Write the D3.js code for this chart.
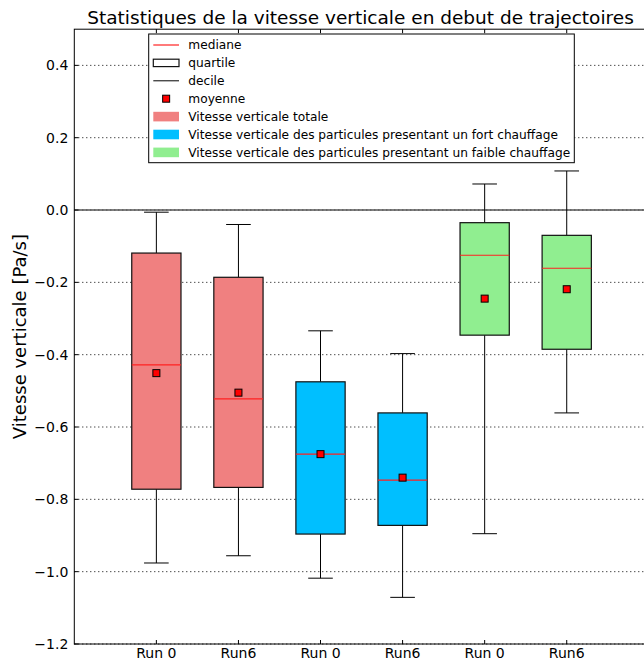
<!DOCTYPE html>
<html>
<head>
<meta charset="utf-8">
<script src="https://cdn.jsdelivr.net/npm/d3@7"></script>
<style>
  html, body { margin: 0; padding: 0; background: #fff; }
  svg { display: block; font-family: "DejaVu Sans", sans-serif; }
</style>
</head>
<body>
<svg id="chart" width="644" height="660"></svg>
<script>
// Box statistics of vertical velocity at trajectory start, one box per run
const categories = ["Run 0", "Run6", "Run 0", "Run6", "Run 0", "Run6"];
const seriesOfBox = [0, 0, 1, 1, 2, 2];
const seriesNames = [
  "Vitesse verticale totale",
  "Vitesse verticale des particules presentant un fort chauffage",
  "Vitesse verticale des particules presentant un faible chauffage"
];
const seriesColors = ["#F08080", "#00BFFF", "#90EE90"];
const decileLow  = [-0.976, -0.956, -1.018, -1.071, -0.895, -0.561];
const quartileLow  = [-0.772, -0.767, -0.896, -0.872, -0.346, -0.385];
const medians    = [-0.428, -0.522, -0.675, -0.747, -0.125, -0.161];
const quartileHigh = [-0.119, -0.186, -0.475, -0.561, -0.035, -0.070];
const decileHigh = [-0.006, -0.040, -0.334, -0.397, 0.072, 0.108];
const means      = [-0.451, -0.505, -0.675, -0.740, -0.245, -0.219];
const yTicks = [-1.2, -1.0, -0.8, -0.6, -0.4, -0.2, 0.0, 0.2, 0.4];
const legendLabels = ["mediane", "quartile", "decile", "moyenne"];

const svg = d3.select("#chart");
const plotL = 74.3, plotR = 648.8, plotT = 29.2, plotB = 644;

const x = d3.scaleLinear().domain([0, 7]).range([plotL, plotR]);
const y = d3.scaleLinear().domain([-1.2, 0.5]).range([plotB, plotT]);
const boxW = 0.6, capW = 0.3;
const pos = categories.map((_, i) => i + 1);

// Horizontal dotted grid
svg.append("g").selectAll("line").data(yTicks).join("line")
  .attr("x1", plotL).attr("x2", plotR)
  .attr("y1", d => y(d)).attr("y2", d => y(d))
  .attr("stroke", "#000").attr("stroke-width", 1)
  .attr("stroke-dasharray", "1,3");

// Zero reference line
svg.append("line")
  .attr("x1", plotL).attr("x2", plotR)
  .attr("y1", y(0)).attr("y2", y(0))
  .attr("stroke", "#555").attr("stroke-width", 1.3);

// Boxes
const boxes = svg.append("g").selectAll("g").data(pos).join("g");
boxes.append("line")
  .attr("x1", d => x(d)).attr("x2", d => x(d))
  .attr("y1", (d, i) => y(decileHigh[i])).attr("y2", (d, i) => y(quartileHigh[i]))
  .attr("stroke", "#000").attr("stroke-width", 1);
boxes.append("line")
  .attr("x1", d => x(d)).attr("x2", d => x(d))
  .attr("y1", (d, i) => y(quartileLow[i])).attr("y2", (d, i) => y(decileLow[i]))
  .attr("stroke", "#000").attr("stroke-width", 1);
boxes.append("line")
  .attr("x1", d => x(d - capW / 2)).attr("x2", d => x(d + capW / 2))
  .attr("y1", (d, i) => y(decileHigh[i])).attr("y2", (d, i) => y(decileHigh[i]))
  .attr("stroke", "#000").attr("stroke-width", 1);
boxes.append("line")
  .attr("x1", d => x(d - capW / 2)).attr("x2", d => x(d + capW / 2))
  .attr("y1", (d, i) => y(decileLow[i])).attr("y2", (d, i) => y(decileLow[i]))
  .attr("stroke", "#000").attr("stroke-width", 1);
boxes.append("rect")
  .attr("x", d => x(d - boxW / 2))
  .attr("width", x(boxW) - x(0))
  .attr("y", (d, i) => y(quartileHigh[i]))
  .attr("height", (d, i) => y(quartileLow[i]) - y(quartileHigh[i]))
  .attr("fill", (d, i) => seriesColors[seriesOfBox[i]])
  .attr("stroke", "#111").attr("stroke-width", 1.2);
boxes.append("line")
  .attr("x1", d => x(d - boxW / 2)).attr("x2", d => x(d + boxW / 2))
  .attr("y1", (d, i) => y(medians[i])).attr("y2", (d, i) => y(medians[i]))
  .attr("stroke", "#ff2020").attr("stroke-width", 1.2);
boxes.append("rect")
  .attr("x", d => x(d) - 3.5).attr("y", (d, i) => y(means[i]) - 3.5)
  .attr("width", 7).attr("height", 7)
  .attr("fill", "#ff0000").attr("stroke", "#000").attr("stroke-width", 1);

// Frame
svg.append("rect")
  .attr("x", plotL).attr("y", plotT)
  .attr("width", plotR - plotL).attr("height", plotB - plotT)
  .attr("fill", "none").attr("stroke", "#000").attr("stroke-width", 1);

// Inward ticks on all sides
const tk = svg.append("g").attr("stroke", "#000").attr("stroke-width", 1);
pos.forEach(p => {
  tk.append("line").attr("x1", x(p)).attr("x2", x(p)).attr("y1", plotB).attr("y2", plotB - 4);
  tk.append("line").attr("x1", x(p)).attr("x2", x(p)).attr("y1", plotT).attr("y2", plotT + 4);
});
yTicks.forEach(v => {
  tk.append("line").attr("x1", plotL).attr("x2", plotL + 4).attr("y1", y(v)).attr("y2", y(v));
  tk.append("line").attr("x1", plotR).attr("x2", plotR - 4).attr("y1", y(v)).attr("y2", y(v));
});

// Tick labels
const fmt = v => (v < 0 ? "\u2212" : "") + Math.abs(v).toFixed(1);
svg.append("g").selectAll("text").data(yTicks).join("text")
  .attr("x", plotL - 6).attr("y", d => y(d)).attr("dy", "0.35em")
  .attr("text-anchor", "end").attr("font-size", 14).attr("fill", "#000")
  .text(fmt);
svg.append("g").selectAll("text").data(pos).join("text")
  .attr("x", d => x(d)).attr("y", plotB + 13.5)
  .attr("text-anchor", "middle").attr("font-size", 14).attr("fill", "#000")
  .text((d, i) => categories[i]);

// Title and axis label
svg.append("text")
  .attr("x", (plotL + plotR) / 2 - 1).attr("y", 24)
  .attr("text-anchor", "middle").attr("font-size", 18.5).attr("fill", "#000")
  .text("Statistiques de la vitesse verticale en debut de trajectoires");
svg.append("text")
  .attr("transform", `translate(26,${(plotT + plotB) / 2}) rotate(-90)`)
  .attr("text-anchor", "middle").attr("font-size", 18).attr("fill", "#000")
  .text("Vitesse verticale [Pa/s]");

// Legend
const lg = svg.append("g");
lg.append("rect")
  .attr("x", 148.7).attr("y", 34).attr("width", 425.6).attr("height", 128.7)
  .attr("fill", "#fff").attr("stroke", "#000").attr("stroke-width", 1);
const rowY = i => 45 + i * 17.9;
const hx0 = 153.3, hx1 = 179, tx = 188.3;
// mediane
lg.append("line").attr("x1", hx0).attr("x2", hx1).attr("y1", rowY(0)).attr("y2", rowY(0))
  .attr("stroke", "#ff2020").attr("stroke-width", 1.2);
// quartile
lg.append("rect").attr("x", hx0).attr("y", rowY(1) - 3.7).attr("width", hx1 - hx0).attr("height", 7.4)
  .attr("fill", "#fff").attr("stroke", "#111").attr("stroke-width", 1.2);
// decile
lg.append("line").attr("x1", hx0).attr("x2", hx1).attr("y1", rowY(2)).attr("y2", rowY(2))
  .attr("stroke", "#000").attr("stroke-width", 1);
// moyenne
lg.append("rect").attr("x", (hx0 + hx1) / 2 - 3.5).attr("y", rowY(3) - 3.5).attr("width", 7).attr("height", 7)
  .attr("fill", "#ff0000").attr("stroke", "#000").attr("stroke-width", 1);
// series patches
seriesColors.forEach((c, k) => {
  lg.append("rect").attr("x", hx0).attr("y", rowY(4 + k) - 4.8).attr("width", hx1 - hx0).attr("height", 9.6)
    .attr("fill", c);
});
lg.selectAll("text").data(legendLabels.concat(seriesNames)).join("text")
  .attr("x", tx).attr("y", (d, i) => rowY(i)).attr("dy", "0.35em")
  .attr("font-size", 12.2).attr("fill", "#000")
  .text(d => d);
</script>
</body>
</html>
